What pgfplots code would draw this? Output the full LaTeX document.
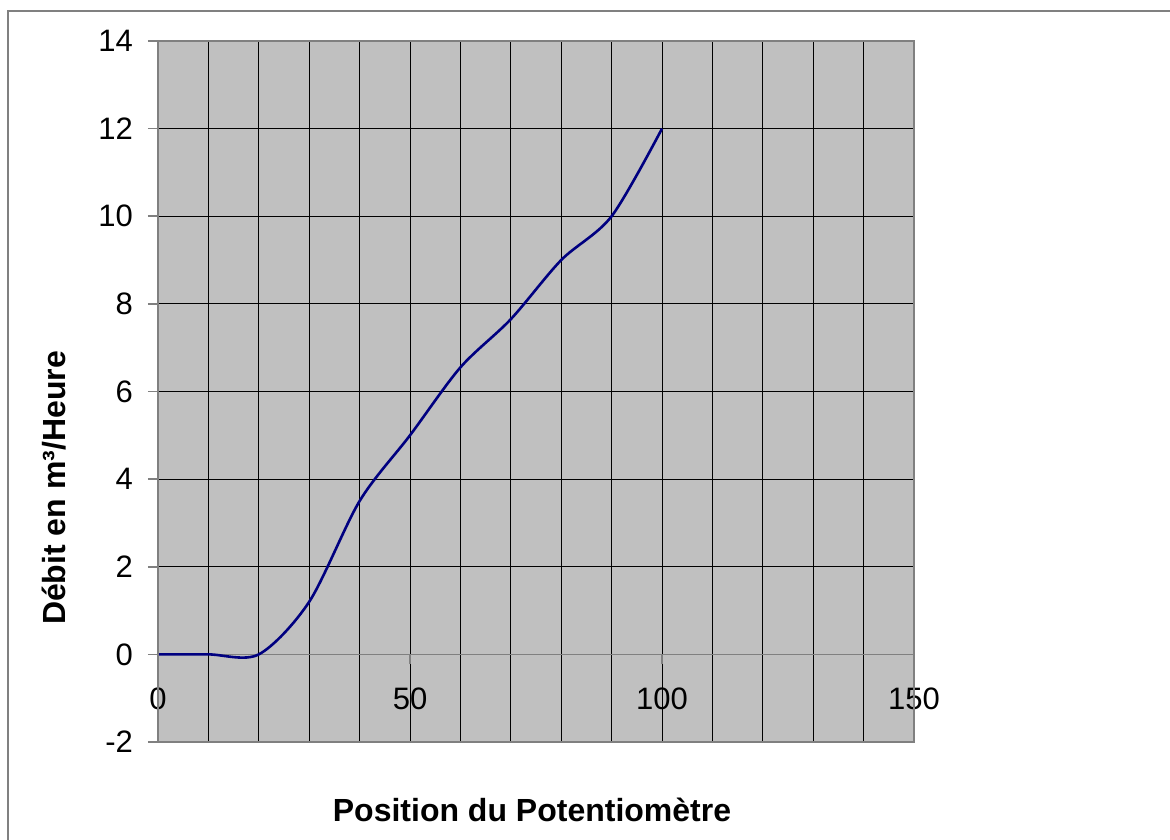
\documentclass[border=0pt]{standalone}
\usepackage{pgfplots}
\pgfplotsset{compat=1.18}
\usepackage{fontspec}
\setmainfont{Liberation Sans}
\definecolor{plotbg}{HTML}{C0C0C0}
\definecolor{frame}{HTML}{808080}
\definecolor{navy}{HTML}{000080}
\begin{document}
\begin{tikzpicture}
\useasboundingbox (-79pt,-48.5pt) rectangle (506pt,371pt);
\draw[frame, line width=0.6pt] (-75pt,-60pt) -- (-75pt,365.5pt) -- (520pt,365.5pt);
\begin{axis}[
  at={(0pt,0pt)}, anchor=south west,
  scale only axis, width=378pt, height=350.5pt,
  xmin=0, xmax=150, ymin=-2, ymax=14,
  axis x line=middle, axis y line=left,
  axis line style={-, frame, line width=0.8pt},
  hide obscured x ticks=false, hide obscured y ticks=false,
  xtick={0,50,100,150}, minor x tick num=4,
  ytick={-2,0,2,4,6,8,10,12,14},
  grid=both,
  major grid style={black, line width=0.5pt},
  minor grid style={black, line width=0.5pt},
  tick align=outside,
  major tick length=5pt, minor tick length=0pt,
  tick style={frame, line width=0.8pt},
  axis background/.style={fill=plotbg},
  /pgf/number format/assume math mode=true,
  tick label style={font=\fontsize{15.5}{17}\selectfont},
  xticklabel style={yshift=-8pt},
  yticklabel style={xshift=-4pt},
  clip=false,
]
\addplot[navy, line width=1.3pt, smooth, tension=0.5] coordinates {
  (0,0) (10,0) (20,0) (30,1.2) (40,3.5) (50,5) (60,6.55) (70,7.65) (80,9) (90,10) (100,12)
};
\draw[frame, line width=1pt] (rel axis cs:0,0) rectangle (rel axis cs:1,1);
\end{axis}
\node[rotate=90, font=\fontsize{16}{18}\selectfont\bfseries] at (-52pt,127pt) {Débit en m³/Heure};
\node[font=\fontsize{16}{18}\selectfont\bfseries] at (187pt,-34pt) {Position du Potentiomètre};
\end{tikzpicture}
\end{document}
